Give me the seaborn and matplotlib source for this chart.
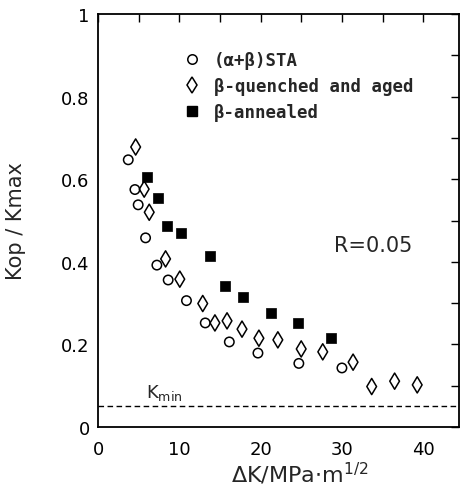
import matplotlib
matplotlib.use("Agg")
import matplotlib.pyplot as plt
import seaborn as sns
import pandas as pd
from matplotlib.ticker import MultipleLocator, FuncFormatter
from matplotlib.lines import Line2D

# ---- data ----
sta_x = [3.72, 4.54, 4.94, 5.85, 7.24, 8.63, 10.88, 13.19, 16.15, 19.67, 24.7, 30.0]
sta_y = [0.647, 0.575, 0.538, 0.458, 0.392, 0.356, 0.306, 0.252, 0.206, 0.179, 0.154, 0.143]

qa_x = [4.63, 5.68, 6.3, 8.31, 10.06, 12.88, 14.38, 15.87, 17.71, 19.79, 22.12, 24.99,
        27.64, 31.37, 33.66, 36.48, 39.26]
qa_y = [0.678, 0.576, 0.520, 0.407, 0.358, 0.299, 0.252, 0.257, 0.237, 0.215, 0.211, 0.189,
        0.182, 0.157, 0.098, 0.111, 0.102]

ann_x = [5.98, 7.33, 8.43, 10.18, 13.74, 15.62, 17.79, 21.23, 24.58, 28.67]
ann_y = [0.605, 0.554, 0.487, 0.469, 0.415, 0.342, 0.314, 0.276, 0.252, 0.215]

series_labels = ["(\u03b1+\u03b2)STA", "\u03b2-quenched and aged", "\u03b2-annealed"]
k_min = 0.05
r_text = "R=0.05"
x_ticks = [0, 10, 20, 30, 40]
y_ticks = [0, 0.2, 0.4, 0.6, 0.8, 1]

sns.set_theme(style="white")
plt.rcParams["font.family"] = ["DejaVu Sans"]
plt.rcParams["mathtext.fontset"] = "dejavusans"

fig = plt.figure(figsize=(4.61, 5.02), dpi=100)
ax = fig.add_axes([0.2126, 0.1474, 0.7831, 0.8227])

df_sta = pd.DataFrame({"x": sta_x, "y": sta_y})
df_qa = pd.DataFrame({"x": qa_x, "y": qa_y})
df_ann = pd.DataFrame({"x": ann_x, "y": ann_y})

sns.scatterplot(data=df_sta, x="x", y="y", marker="o", s=46, facecolor="none",
                edgecolor="black", linewidth=1.1, ax=ax, zorder=3)
sns.scatterplot(data=df_qa, x="x", y="y", marker="d", s=68, facecolor="none",
                edgecolor="black", linewidth=1.1, ax=ax, zorder=3)
sns.scatterplot(data=df_ann, x="x", y="y", marker="s", s=46, color="black",
                edgecolor="black", linewidth=0.5, ax=ax, zorder=3)

ax.axhline(k_min, color="black", lw=1.0, ls=(0, (4, 2.5)), zorder=2)
ax.text(5.9, k_min + 0.035, r"$\mathregular{K_{min}}$", fontsize=13, va="center", ha="left")
ax.text(33.9, 0.44, r_text, fontsize=15, va="center", ha="center")

ax.set_xlim(0, 44.4)
ax.set_ylim(0, 1)
ax.xaxis.set_major_locator(MultipleLocator(5))
ax.yaxis.set_major_locator(MultipleLocator(0.1))
ax.xaxis.set_major_formatter(FuncFormatter(
    lambda v, p: f"{int(round(v))}" if any(abs(v - t) < 1e-6 for t in x_ticks) else ""))
ax.yaxis.set_major_formatter(FuncFormatter(
    lambda v, p: (f"{v:g}") if any(abs(v - t) < 1e-6 for t in y_ticks) else ""))

ax.tick_params(axis="both", which="major", direction="in", length=6, width=1.0,
               colors="black", labelsize=13, top=True, right=True)
ax.tick_params(axis="x", pad=9)
ax.tick_params(axis="y", pad=6)
for sp in ax.spines.values():
    sp.set_visible(True)
    sp.set_color("black")
    sp.set_linewidth(1.3)

ax.set_xlabel(r"$\Delta$K/MPa$\cdot$m$^{\mathregular{1/2}}$", fontsize=16)
ax.xaxis.set_label_coords(0.56, -0.08)
ax.set_ylabel("Kop / Kmax", fontsize=15)
ax.yaxis.set_label_coords(-0.2, 0.5)

handles = [
    Line2D([], [], ls="none", marker="o", ms=6.8, mfc="none", mec="black", mew=1.1),
    Line2D([], [], ls="none", marker="d", ms=8.2, mfc="none", mec="black", mew=1.1),
    Line2D([], [], ls="none", marker="s", ms=6.8, mfc="black", mec="black"),
]
ax.legend(handles, series_labels, loc="upper left", bbox_to_anchor=(0.236, 0.91),
          frameon=False, borderpad=0, borderaxespad=0, handlelength=1.0,
          handletextpad=0.76, labelspacing=0.45,
          prop={"family": "DejaVu Sans Mono", "weight": "bold", "size": 12.5})

fig.savefig("out.png", dpi=100)
